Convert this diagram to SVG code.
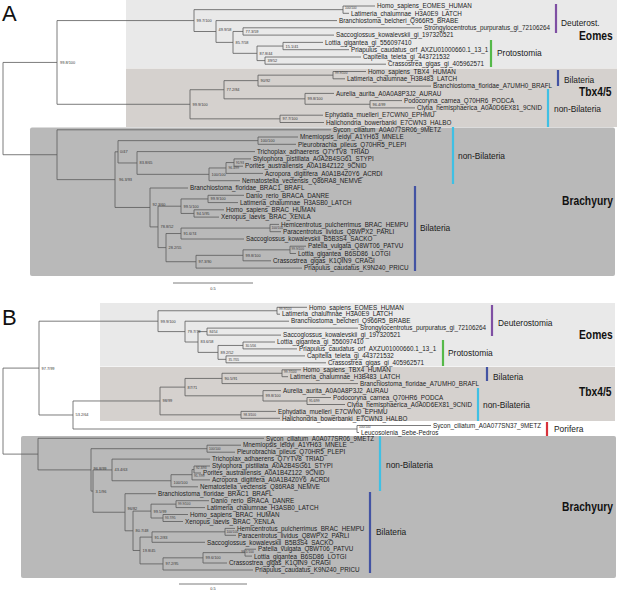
<svg xmlns="http://www.w3.org/2000/svg" width="617" height="592" viewBox="0 0 617 592">
<style>
.t{font-family:"Liberation Sans",Arial,sans-serif;font-size:6.3px;fill:#1e1e1e}
.b{font-family:"Liberation Sans",Arial,sans-serif;font-size:3.9px;fill:#3a3a3a}
.s{font-family:"Liberation Sans",Arial,sans-serif;font-size:3.2px;fill:#3a3a3a}
.c{font-family:"Liberation Sans",Arial,sans-serif;font-size:8.4px;fill:#1a1a1a}
.g{font-family:"Liberation Sans",Arial,sans-serif;font-size:10.3px;font-weight:bold;fill:#111}
.p{font-family:"Liberation Sans",Arial,sans-serif;font-size:22px;fill:#111}
.tr{fill:none;stroke:#5a5a5a;stroke-width:0.8}
.bar{fill:none;stroke-width:2.2}
.eo{fill:#e9e9e9}.tb{fill:#d5d1ce}.br{fill:#b9b9b9}
</style>
<rect width="617" height="592" fill="#fff"/>
<g id="A-boxes">
<rect class="eo" x="126" y="0" width="491" height="68"/>
<rect class="tb" x="126" y="68.5" width="491" height="58.5"/>
<rect class="br" x="30" y="127.5" width="585" height="148.5" rx="2"/>
</g>
<g id="B-boxes">
<rect class="eo" x="100" y="303" width="515" height="63.5"/>
<rect class="tb" x="100" y="367" width="515" height="54"/>
<rect class="br" x="21" y="436" width="595" height="142" rx="2"/>
</g>
<text class="p" x="2" y="20.5">A</text>
<text class="p" x="2" y="325">B</text>
<g id="connectors">
<path class="tr" d="M3,62.43V154.72M3,62.43H57M3,154.72H57M57,20.57V104.29
M57,20.57H194M194,9.65V31.5M194,9.65H343M343,6V13.3M343,6H375M343,13.3H349
M194,31.5H216M216,20.6V42.39M216,20.6H337M216,42.39H233M233,31.45V53.33
M233,31.45H243M243,27.8V35.1M243,27.8H422M243,35.1H334
M233,53.33H257M257,46.05V60.6M257,46.05H283M283,42.4V49.7M283,42.4H323M283,49.7H349
M257,60.6H265M265,57V64.2M265,57H361M265,64.2H386
M57,104.29H190M190,89.73V118.85M190,89.73H224M224,80.63V98.83M224,80.63H258M258,75.15V86.1M258,75.15H333M333,71.5V78.8M333,71.5H366M333,78.8H345M258,86.1H431
M224,98.83H305M305,93.4V104.25M305,93.4H334M305,104.25H370M370,100.6V107.9M370,100.6H402M370,107.9H415
M190,118.85H280M280,115.2V122.5M280,115.2H323M280,122.5H324
M57,129.8V179.63M57,129.8H331M57,179.63H115M115,151.81V207.46M115,151.81H118M118,140.65V162.97M118,140.65H258M258,137V144.3M258,137H298M258,144.3H296
M118,162.97H137M137,151.6V174.34M137,151.6H255M137,174.34H209M209,167.98V180.7M209,180.7H240M209,167.98H226M226,162.55V173.4M226,173.4H263M226,162.55H234M234,158.9V166.2M234,158.9H251M234,166.2H243
M115,207.46H150M150,188V226.91M150,188H188M150,226.91H158M158,206.2V247.62M158,206.2H181M181,198.95V213.45M181,198.95H208M208,195.3V202.6M208,195.3H244M208,202.6H238M181,213.45H194M194,209.8V217.1M194,209.8H224M194,217.1H219
M158,247.62H166M166,233.53V261.71M166,233.53H181M181,228.05V239M181,228.05H270M270,224.4V231.7M270,224.4H279M270,231.7H281M181,239H244
M166,261.71H196M196,255.33V268.1M196,255.33H243M243,249.85V260.8M243,249.85H290M290,246.2V253.5M290,246.2H306M290,253.5H296M243,260.8H271M196,268.1H302
M173,283H253"/>
<path class="tr" d="M3,368.08V454.1M3,368.08H39M3,454.1H38M39,321.18V414.99
M39,321.18H158M158,310.75V331.6M158,310.75H277M277,307.3V314.2M277,307.3H307M277,314.2H280
M158,331.6H185M185,321.2V342M185,321.2H289M185,342H198M198,331.6V352.4M198,331.6H207M207,328.1V335.1M207,328.1H358M207,335.1H281
M198,352.4H218M218,345.45V359.35M218,345.45H243M243,342V348.9M243,342H275M243,348.9H297M218,359.35H226M226,355.9V362.8M226,355.9H305M226,362.8H326
M39,414.99H73M73,400.98V429M73,400.98H160M160,387.11V414.85M160,387.11H185M185,378.43V395.8M185,378.43H222M222,373.25V383.6M222,373.25H282M282,369.8V376.7M282,369.8H301M282,376.7H288M222,383.6H358
M185,395.8H263M263,390.6V401M263,390.6H281M263,401H307M307,397.5V404.5M307,397.5H331M307,404.5H345
M160,414.85H241M241,411.4V418.3M241,411.4H276M241,418.3H280
M73,429H357M357,425.5V432.5M357,425.5H431M357,432.5H359
M38,438.3V469.9M38,438.3H264M38,469.9H91M91,448.7V491.09M91,448.7H207M207,445.2V452.2M207,445.2H241M207,452.2H235
M91,491.09H93M93,469.93V512.24M93,469.93H112M112,459.1V480.75M112,459.1H210M112,480.75H171M171,474.7V486.8M171,486.8H198M171,474.7H192M192,469.5V479.9M192,479.9H210M192,469.5H194M194,466V473M194,466H210M194,473H201
M93,512.24H125M125,493.7V530.79M125,493.7H156M125,530.79H133M133,511.08V550.49M133,511.08H151M151,504.15V518M151,504.15H176M176,500.7V507.6M176,500.7H209M176,507.6H205M151,518H163M163,514.5V521.5M163,514.5H188M163,521.5H183
M133,550.49H140M140,537.08V563.9M140,537.08H152M152,531.85V542.3M152,531.85H225M225,528.4V535.3M225,528.4H235M225,535.3H236M152,542.3H205
M140,563.9H163M163,557.83V570M163,557.83H203M203,552.65V563M203,552.65H245M245,549.2V556.1M245,549.2H256M245,556.1H252M203,563H227M163,570H253
M179,584H247"/>
</g>
<g id="A-support">
<text class="b" x="60" y="63.8">99.8/100</text>
<text class="b" x="196.5" y="22">99.7/100</text>
<text class="s" x="345" y="8.6">100/100</text>
<text class="b" x="218.5" y="30.5">49.9/58</text>
<text class="b" x="245.5" y="32.9">77.3/59</text>
<text class="b" x="235.5" y="43.8">85.7/58</text>
<text class="b" x="259.5" y="54.7">87.8/44</text>
<text class="b" x="285.5" y="47.5">15.1/41</text>
<text class="b" x="267.5" y="62">39/52</text>
<text class="b" x="192.5" y="105.7">99.9/100</text>
<text class="b" x="226.5" y="91.1">77.2/84</text>
<text class="b" x="260.5" y="82">90/92</text>
<text class="s" x="335" y="74.2">99.9/100</text>
<text class="b" x="307.5" y="100.2">99.8/100</text>
<text class="b" x="372.5" y="105.6">96.4/99</text>
<text class="b" x="282.5" y="120.2">97.7/100</text>
<text class="b" x="120" y="153.2">0/47</text>
<text class="b" x="119" y="181">96.3/93</text>
<text class="b" x="260.5" y="142">100/100</text>
<text class="b" x="139.5" y="164.4">83.8/65</text>
<text class="s" x="236" y="163.5">91/93</text>
<text class="s" x="228.5" y="169.2">96.3/99</text>
<text class="b" x="211.5" y="175.7">100/100</text>
<text class="b" x="152.5" y="206">92.3/60</text>
<text class="b" x="210.5" y="200.3">99.9/100</text>
<text class="b" x="183.5" y="207.6">99.5/100</text>
<text class="b" x="196.5" y="214.8">94.5/95</text>
<text class="b" x="160.5" y="228.3">78.8/52</text>
<text class="s" x="271.5" y="229.2">100/100</text>
<text class="b" x="183.5" y="234.9">91.6/74</text>
<text class="b" x="168.5" y="249">28.2/55</text>
<text class="s" x="291.5" y="250.3">99.9/100</text>
<text class="b" x="245.5" y="256.7">99.8/100</text>
<text class="b" x="198.5" y="263.1">97.3/90</text>
<text class="b" x="213" y="289.5" text-anchor="middle">0.5</text>
</g>
<g id="B-support">
<text class="b" x="41.5" y="369.5">97.7/99</text>
<text class="b" x="160.5" y="322.6">99.9/100</text>
<text class="s" x="279" y="309.8">99.9/100</text>
<text class="b" x="187.5" y="333">79.7/79</text>
<text class="b" x="200.5" y="343.4">83.6/58</text>
<text class="s" x="209.5" y="332.8">84/54</text>
<text class="b" x="220.5" y="353.8">89.2/52</text>
<text class="s" x="245.5" y="346.6">30.5/56</text>
<text class="s" x="228.5" y="360.5">35.7/55</text>
<text class="b" x="75.5" y="416.4">53.2/64</text>
<text class="b" x="162.5" y="402.4">98/99</text>
<text class="b" x="187.5" y="388.5">87/71</text>
<text class="b" x="224.5" y="379.8">90.5/91</text>
<text class="s" x="284" y="372.7">99.7/100</text>
<text class="b" x="265.5" y="397.2">99.8/100</text>
<text class="s" x="309" y="402.2">95.6/99</text>
<text class="s" x="243.5" y="416">98.3/100</text>
<text class="s" x="359" y="428.3">100/100</text>
<text class="b" x="93.5" y="469.7">96.8/99</text>
<text class="b" x="95.5" y="493">3.1/96</text>
<text class="s" x="209" y="449.8">100/100</text>
<text class="b" x="114.5" y="471.3">43.4/63</text>
<text class="s" x="196" y="468.6">92.3/93</text>
<text class="s" x="194" y="477.2">95.7/99</text>
<text class="b" x="173.5" y="483.5">100/100</text>
<text class="b" x="127.5" y="509.5">96/82</text>
<text class="b" x="153.5" y="512.5">99.5/99</text>
<text class="s" x="178" y="505.2">99.9/100</text>
<text class="s" x="165" y="519.1">93.7/95</text>
<text class="b" x="135.5" y="532.2">80.7/48</text>
<text class="b" x="154.5" y="538.5">91.2/83</text>
<text class="s" x="226.5" y="532.9">100/100</text>
<text class="b" x="142.5" y="551.9">19.8/45</text>
<text class="b" x="205.5" y="559.2">99.6/100</text>
<text class="s" x="241.3" y="553.1">99.1/100</text>
<text class="b" x="165.5" y="565.3">97.2/95</text>
<text class="b" x="213" y="590" text-anchor="middle">0.5</text>
</g>
<g id="A-Eomes">
<text class="t" x="377" y="8.2">Homo_sapiens_EOMES_HUMAN</text>
<text class="t" x="351" y="15.5">Latimeria_chalumnae_H3A0E9_LATCH</text>
<text class="t" x="339" y="22.8">Branchiostoma_belcheri_Q966R5_BRABE</text>
<text class="t" x="424" y="30">Strongylocentrotus_purpuratus_gi_72106264</text>
<text class="t" x="336" y="37.3">Saccoglossus_kowalevskii_gi_197320521</text>
<text class="t" x="325" y="44.6">Lottia_gigantea_gi_556097410</text>
<text class="t" x="351" y="51.9">Priapulus_caudatus_orf_AXZU01000660.1_13_1</text>
<text class="t" x="363" y="59.2">Capitella_teleta_gi_443721532</text>
<text class="t" x="388" y="66.4">Crassostrea_gigas_gi_405962571</text>
<path class="bar" stroke="#7f4fa3" d="M556,4V33"/>
<path class="bar" stroke="#55b949" d="M491,40V67"/>
<text class="c" x="561" y="26">Deuterost.</text>
<text class="c" x="497" y="56">Protostomia</text>
<text class="g" transform="translate(579,40) scale(1,1.18)">Eomes</text>
</g>
<g id="A-Tbx">
<text class="t" x="368" y="73.7">Homo_sapiens_TBX4_HUMAN</text>
<text class="t" x="347" y="81">Latimeria_chalumnae_H3B483_LATCH</text>
<text class="t" x="433" y="88.3">Branchiostoma_floridae_A7UMH0_BRAFL</text>
<text class="t" x="336" y="95.6">Aurelia_aurita_A0A0A8P3J2_AURAU</text>
<text class="t" x="404" y="102.8">Podocoryna_carnea_Q70HR6_PODCA</text>
<text class="t" x="417" y="110.1">Clytia_hemisphaerica_A0A0D6EX81_9CNID</text>
<text class="t" x="325" y="117.4">Ephydatia_muelleri_E7CWN0_EPHMU</text>
<text class="t" x="326" y="124.7">Halichondria_bowerbanki_E7CWN3_HALBO</text>
<path class="bar" stroke="#4353a3" d="M558,70V86"/>
<path class="bar" stroke="#3fc0e4" d="M548,89V127"/>
<text class="c" x="564" y="83">Bilateria</text>
<text class="c" x="554" y="112">non-Bilateria</text>
<text class="g" transform="translate(579,96) scale(1,1.18)">Tbx4/5</text>
</g>
<g id="A-Brachyury">
<text class="t" x="333" y="132">Sycon_ciliatum_A0A077SR06_9METZ</text>
<text class="t" x="300" y="139.2">Mnemiopsis_leidyi_A1YH63_MNELE</text>
<text class="t" x="298" y="146.5">Pleurobrachia_pileus_Q70HR5_PLEPI</text>
<text class="t" x="257" y="153.8">Trichoplax_adhaerens_Q7YTV8_TRIAD</text>
<text class="t" x="253" y="161.1">Stylophora_pistillata_A0A2B4SG61_STYPI</text>
<text class="t" x="245" y="168.4">Porites_australiensis_A0A1B4Z122_9CNID</text>
<text class="t" x="265" y="175.6">Acropora_digitifera_A0A1B4Z0Y6_ACRDI</text>
<text class="t" x="242" y="182.9">Nematostella_vectensis_Q86RA8_NEMVE</text>
<text class="t" x="190" y="190.2">Branchiostoma_floridae_BRAC1_BRAFL</text>
<text class="t" x="246" y="197.5">Danio_rerio_BRACA_DANRE</text>
<text class="t" x="240" y="204.8">Latimeria_chalumnae_H3ASB0_LATCH</text>
<text class="t" x="226" y="212">Homo_sapiens_BRAC_HUMAN</text>
<text class="t" x="221" y="219.3">Xenopus_laevis_BRAC_XENLA</text>
<text class="t" x="281" y="226.6">Hemicentrotus_pulcherrimus_BRAC_HEMPU</text>
<text class="t" x="283" y="233.9">Paracentrotus_lividus_Q8WPX2_PARLI</text>
<text class="t" x="246" y="241.2">Saccoglossus_kowalevskii_B5B3S4_SACKO</text>
<text class="t" x="308" y="248.4">Patella_vulgata_Q8WT06_PATVU</text>
<text class="t" x="298" y="255.9">Lottia_gigantea_B6SD86_LOTGI</text>
<text class="t" x="273" y="263">Crassostrea_gigas_K1QIN9_CRAGI</text>
<text class="t" x="304" y="270.3">Priapulus_caudatus_K9N240_PRICU</text>
<path class="bar" stroke="#3fc0e4" d="M453,127V184"/>
<path class="bar" stroke="#4353a3" d="M415,186V271"/>
<text class="c" x="458" y="159">non-Bilateria</text>
<text class="c" x="420" y="231">Bilateria</text>
<text class="g" transform="translate(562,205) scale(1,1.18)">Brachyury</text>
</g>
<g id="B-Eomes">
<text class="t" x="309" y="309.5">Homo_sapiens_EOMES_HUMAN</text>
<text class="t" x="282" y="316.4">Latimeria_chalumnae_H3A0E9_LATCH</text>
<text class="t" x="291" y="323.4">Branchiostoma_belcheri_Q966R5_BRABE</text>
<text class="t" x="360" y="330.3">Strongylocentrotus_purpuratus_gi_72106264</text>
<text class="t" x="283" y="337.3">Saccoglossus_kowalevskii_gi_197320521</text>
<text class="t" x="277" y="344.2">Lottia_gigantea_gi_556097410</text>
<text class="t" x="299" y="351.1">Priapulus_caudatus_orf_AXZU01000660.1_13_1</text>
<text class="t" x="307" y="358.1">Capitella_teleta_gi_443721532</text>
<text class="t" x="328" y="365">Crassostrea_gigas_gi_405962571</text>
<path class="bar" stroke="#7f4fa3" d="M492,305V336"/>
<path class="bar" stroke="#55b949" d="M443,340V366"/>
<text class="c" x="498" y="326">Deuterostomia</text>
<text class="c" x="448" y="356">Protostomia</text>
<text class="g" transform="translate(579,339) scale(1,1.18)">Eomes</text>
</g>
<g id="B-Tbx">
<text class="t" x="303" y="372">Homo_sapiens_TBX4_HUMAN</text>
<text class="t" x="290" y="378.9">Latimeria_chalumnae_H3B483_LATCH</text>
<text class="t" x="360" y="385.8">Branchiostoma_floridae_A7UMH0_BRAFL</text>
<text class="t" x="283" y="392.8">Aurelia_aurita_A0A0A8P3J2_AURAU</text>
<text class="t" x="333" y="399.7">Podocoryna_carnea_Q70HR6_PODCA</text>
<text class="t" x="347" y="406.7">Clytia_hemisphaerica_A0A0D6EX81_9CNID</text>
<text class="t" x="278" y="413.6">Ephydatia_muelleri_E7CWN0_EPHMU</text>
<text class="t" x="282" y="420.5">Halichondria_bowerbanki_E7CWN3_HALBO</text>
<path class="bar" stroke="#4353a3" d="M487,367V381"/>
<path class="bar" stroke="#3fc0e4" d="M478,388V421"/>
<text class="c" x="493" y="380">Bilateria</text>
<text class="c" x="483" y="408">non-Bilateria</text>
<text class="g" transform="translate(579,396) scale(1,1.18)">Tbx4/5</text>
</g>
<g id="B-Porifera">
<text class="t" x="433" y="427.7">Sycon_ciliatum_A0A077SN37_9METZ</text>
<text class="t" x="361" y="434.7">Leucosolenia_Sebe-Pedros</text>
<path class="bar" stroke="#d8323c" d="M547,422V436"/>
<text class="c" x="554" y="432">Porifera</text>
</g>
<g id="B-Brachyury">
<text class="t" x="266" y="440.5">Sycon_ciliatum_A0A077SR06_9METZ</text>
<text class="t" x="243" y="447.4">Mnemiopsis_leidyi_A1YH63_MNELE</text>
<text class="t" x="237" y="454.4">Pleurobrachia_pileus_Q70HR5_PLEPI</text>
<text class="t" x="212" y="461.3">Trichoplax_adhaerens_Q7YTV8_TRIAD</text>
<text class="t" x="212" y="468.2">Stylophora_pistillata_A0A2B4SG61_STYPI</text>
<text class="t" x="203" y="475.2">Porites_australiensis_A0A1B4Z122_9CNID</text>
<text class="t" x="212" y="482.1">Acropora_digitifera_A0A1B4Z0Y6_ACRDI</text>
<text class="t" x="200" y="489">Nematostella_vectensis_Q86RA8_NEMVE</text>
<text class="t" x="158" y="495.9">Branchiostoma_floridae_BRAC1_BRAFL</text>
<text class="t" x="211" y="502.9">Danio_rerio_BRACA_DANRE</text>
<text class="t" x="207" y="509.8">Latimeria_chalumnae_H3ASB0_LATCH</text>
<text class="t" x="190" y="516.7">Homo_sapiens_BRAC_HUMAN</text>
<text class="t" x="185" y="523.7">Xenopus_laevis_BRAC_XENLA</text>
<text class="t" x="237" y="530.6">Hemicentrotus_pulcherrimus_BRAC_HEMPU</text>
<text class="t" x="238" y="537.5">Paracentrotus_lividus_Q8WPX2_PARLI</text>
<text class="t" x="207" y="544.5">Saccoglossus_kowalevskii_B5B3S4_SACKO</text>
<text class="t" x="258" y="551.2">Patella_vulgata_Q8WT06_PATVU</text>
<text class="t" x="254" y="558.5">Lottia_gigantea_B6SD86_LOTGI</text>
<text class="t" x="229" y="565.2">Crassostrea_gigas_K1QIN9_CRAGI</text>
<text class="t" x="255" y="572.2">Priapulus_caudatus_K9N240_PRICU</text>
<path class="bar" stroke="#3fc0e4" d="M380,436V491"/>
<path class="bar" stroke="#4353a3" d="M370,492V573"/>
<text class="c" x="386" y="468">non-Bilateria</text>
<text class="c" x="376" y="535">Bilateria</text>
<text class="g" transform="translate(562,511) scale(1,1.18)">Brachyury</text>
</g>
</svg>
